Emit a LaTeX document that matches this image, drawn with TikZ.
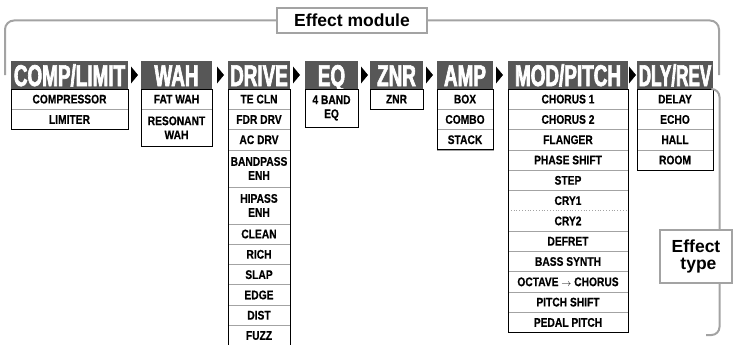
\documentclass[tikz,border=0pt]{standalone}
\usepackage{fontspec}
\setmainfont{Liberation Sans}
\newfontfamily\headfont[FakeStretch=0.63, FakeBold=2.2]{Liberation Sans Bold}
\newfontfamily\headnarrow[FakeStretch=0.57, FakeBold=2.2]{Liberation Sans Bold}
\newfontfamily\rowfont[FakeStretch=0.82, FakeBold=0.4]{Liberation Sans Bold}
\newfontfamily\labelfont{Liberation Sans Bold}
\usetikzlibrary{positioning}

\definecolor{headgray}{HTML}{575757}
\definecolor{linegray}{HTML}{A3A3A3}

\tikzset{
	head/.style={fill=headgray, text=white, anchor=north west,
		font=\headfont\fontsize{30}{30}\selectfont,
		minimum height=28pt, inner sep=0pt, outer sep=0pt,
		text height=22pt, text depth=0pt},
	subrow/.style={draw=linegray, line width=0.8pt, minimum width=#1,
		minimum height=20.3pt, inner sep=0pt, outer sep=0pt, align=center,
		font=\rowfont\fontsize{12.5}{14}\selectfont},
	frame/.style={line width=0.9pt},
	bracket/.style={draw=linegray, line width=2pt, rounded corners=9pt},
	labelbox/.style={draw=linegray, line width=1.6pt, fill=white, inner sep=0pt,
		font=\labelfont\fontsize{17.5}{17}\selectfont, align=center}
}

\begin{document}
\begin{tikzpicture}[x=1pt, y=-1pt]
		\useasboundingbox (0,0) rectangle (733,345);

		% Effect module bracket
		\node[labelbox, minimum width=150pt, minimum height=25pt] (module) at (352,20.5) {Effect module};
		\coordinate (topL) at (5,75);
		\coordinate (topR) at (719,75);
		\draw[bracket] (topL) |- (module.west);
		\draw[bracket] (module.east) -| (topR);

		% Modules
		\node[head, minimum width=117pt] (comp) at (11,61) {COMP/LIMIT};
		\node[head, minimum width=71pt] (wah) at (141,61) {WAH};
		\node[head, minimum width=62pt] (drive) at (228,61) {DRIVE};
		\node[head, minimum width=53pt] (eq) at (305,61) {EQ};
		\node[head, minimum width=53pt] (znr) at (370,61) {ZNR};
		\node[head, minimum width=56pt] (amp) at (437,61) {AMP};
		\node[head, minimum width=120pt] (mod) at (508,61) {MOD/PITCH};
		\node[head, minimum width=76pt, font=\headnarrow\fontsize{30}{30}\selectfont] (dly) at (637,61) {DLY/REV};

		\fill ([xshift=3pt,yshift=8.5pt]comp.east) -- ++(7,8.5) -- ++(-7,8.5) -- cycle;
		\fill ([xshift=5pt,yshift=8.5pt]wah.east) -- ++(7,8.5) -- ++(-7,8.5) -- cycle;
		\fill ([xshift=3pt,yshift=8.5pt]drive.east) -- ++(7,8.5) -- ++(-7,8.5) -- cycle;
		\fill ([xshift=3pt,yshift=8.5pt]eq.east) -- ++(7,8.5) -- ++(-7,8.5) -- cycle;
		\fill ([xshift=3pt,yshift=8.5pt]znr.east) -- ++(7,8.5) -- ++(-7,8.5) -- cycle;
		\fill ([xshift=3pt,yshift=8.5pt]amp.east) -- ++(7,8.5) -- ++(-7,8.5) -- cycle;
		\fill ([xshift=1pt,yshift=8.5pt]mod.east) -- ++(7,8.5) -- ++(-7,8.5) -- cycle;

		% Effect types
		\node[subrow=117pt, below=0pt of comp] (compressor) {COMPRESSOR};
		\node[subrow=117pt, below=0pt of compressor] (limiter) {LIMITER};
		\draw[frame] (compressor.north west) rectangle (limiter.south east);

		\node[subrow=71pt, below=0pt of wah] (fatwah) {FAT WAH};
		\node[subrow=71pt, minimum height=37pt, below=0pt of fatwah] (reswah) {RESONANT\\WAH};
		\draw[frame] (fatwah.north west) rectangle (reswah.south east);

		\node[subrow=62pt, below=0pt of drive] (tecln) {TE CLN};
		\node[subrow=62pt, below=0pt of tecln] (fdrdrv) {FDR DRV};
		\node[subrow=62pt, below=0pt of fdrdrv] (acdrv) {AC DRV};
		\node[subrow=62pt, minimum height=37pt, below=0pt of acdrv] (bandpass) {BANDPASS\\ENH};
		\node[subrow=62pt, minimum height=37pt, below=0pt of bandpass] (hipass) {HIPASS\\ENH};
		\node[subrow=62pt, below=0pt of hipass] (clean) {CLEAN};
		\node[subrow=62pt, below=0pt of clean] (rich) {RICH};
		\node[subrow=62pt, below=0pt of rich] (slap) {SLAP};
		\node[subrow=62pt, below=0pt of slap] (edge) {EDGE};
		\node[subrow=62pt, below=0pt of edge] (dist) {DIST};
		\node[subrow=62pt, below=0pt of dist] (fuzz) {FUZZ};
		\draw[frame] (tecln.north west) rectangle (fuzz.south east);

		\node[subrow=53pt, minimum height=38pt, below=0pt of eq] (band) {4 BAND\\EQ};
		\draw[frame] (band.north west) rectangle (band.south east);

		\node[subrow=53pt, below=0pt of znr] (znrtype) {ZNR};
		\draw[frame] (znrtype.north west) rectangle (znrtype.south east);

		\node[subrow=56pt, below=0pt of amp] (box) {BOX};
		\node[subrow=56pt, below=0pt of box] (combo) {COMBO};
		\node[subrow=56pt, below=0pt of combo] (stack) {STACK};
		\draw[frame] (box.north west) rectangle (stack.south east);

		\node[subrow=120pt, below=0pt of mod] (chorusa) {CHORUS 1};
		\node[subrow=120pt, below=0pt of chorusa] (chorusb) {CHORUS 2};
		\node[subrow=120pt, below=0pt of chorusb] (flanger) {FLANGER};
		\node[subrow=120pt, below=0pt of flanger] (phase) {PHASE SHIFT};
		\node[subrow=120pt, below=0pt of phase] (stepfx) {STEP};
		\node[subrow=120pt, draw=none, below=0pt of stepfx] (crya) {CRY1};
		\node[subrow=120pt, draw=none, below=0pt of crya] (cryb) {CRY2};
		\node[subrow=120pt, below=0pt of cryb] (defret) {DEFRET};
		\node[subrow=120pt, below=0pt of defret] (synth) {BASS SYNTH};
		\node[subrow=120pt, below=0pt of synth] (octave) {OCTAVE {\fontsize{10}{10}\selectfont$\rightarrow$} CHORUS};
		\node[subrow=120pt, below=0pt of octave] (pitch) {PITCH SHIFT};
		\node[subrow=120pt, below=0pt of pitch] (pedal) {PEDAL PITCH};
		\draw[linegray, line width=0.8pt, dotted] (crya.south west) -- (crya.south east);
		\draw[frame] (chorusa.north west) rectangle (pedal.south east);

		\node[subrow=76pt, below=0pt of dly] (delay) {DELAY};
		\node[subrow=76pt, below=0pt of delay] (echo) {ECHO};
		\node[subrow=76pt, below=0pt of echo] (hall) {HALL};
		\node[subrow=76pt, below=0pt of hall] (room) {ROOM};
		\draw[frame] (delay.north west) rectangle (room.south east);

		% Effect type bracket
		\coordinate (sideTop) at (712,89);
		\coordinate (sideMid) at (719.5,210);
		\coordinate (sideBot) at (706,335);
		\draw[bracket, rounded corners=8pt] (sideTop) -| (sideMid) |- (sideBot);
		\node[labelbox, minimum width=72pt, minimum height=53pt] (type) at (696,256.5) {Effect\\\ type};
	\end{tikzpicture}
\end{document}
